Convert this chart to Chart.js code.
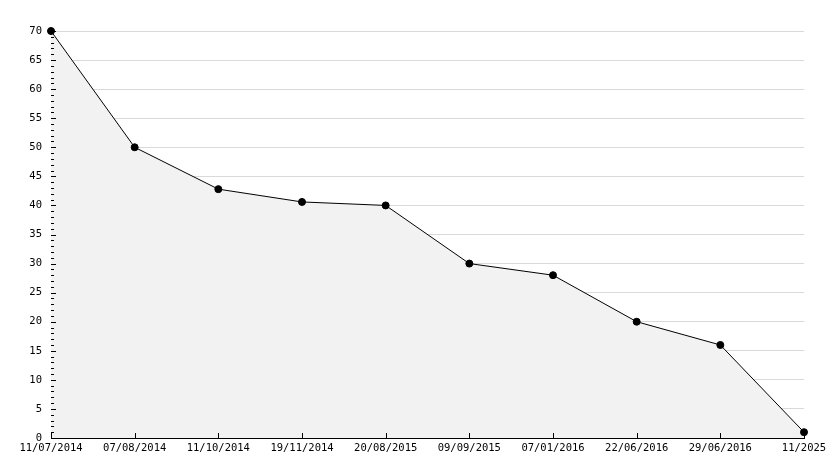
<!DOCTYPE html>
<html>
<head>
<meta charset="utf-8">
<script src="https://cdn.jsdelivr.net/npm/chart.js@4/dist/chart.umd.min.js"></script>
<style>
  html, body { margin: 0; padding: 0; background: #fff; }
  #wrap { width: 834px; height: 468px; }
</style>
</head>
<body>
<div id="wrap"><canvas id="c"></canvas></div>
<script>
const dates = ['11/07/2014', '07/08/2014', '11/10/2014', '19/11/2014', '20/08/2015',
  '09/09/2015', '07/01/2016', '22/06/2016', '29/06/2016', '11/2025'];
const values = [70, 50, 42.8, 40.6, 40, 30, 28, 20, 16, 1];
const yMin = 0;
const yMax = 70;
const yStep = 5;

const FONT = 'DejaVu Sans Mono';

// ticks drawn inside the plot, like the original
const innerTicks = {
  id: 'innerTicks',
  afterDatasetsDraw(chart) {
    const { ctx, chartArea: a, scales: { x, y } } = chart;
    ctx.save();
    ctx.strokeStyle = '#000';
    ctx.lineWidth = 1;
    ctx.beginPath();
    for (let v = yMin; v <= yMax; v++) {
      const py = Math.round(y.getPixelForValue(v)) + 0.5;
      const len = v % yStep === 0 ? 5 : 3;
      ctx.moveTo(a.left, py);
      ctx.lineTo(a.left + len, py);
    }
    dates.forEach((d, i) => {
      const px = Math.round(x.getPixelForValue(i)) + 0.5;
      ctx.moveTo(px, a.bottom);
      ctx.lineTo(px, a.bottom - 5);
    });
    ctx.stroke();
    ctx.restore();
  }
};

new Chart(document.getElementById('c'), {
  type: 'line',
  data: {
    labels: dates,
    datasets: [{
      data: values,
      borderColor: '#000',
      borderWidth: 1,
      backgroundColor: '#f2f2f2',
      fill: 'origin',
      tension: 0,
      clip: false,
      pointRadius: 3.5,
      pointBackgroundColor: '#000',
      pointBorderColor: '#000',
      pointBorderWidth: 1
    }]
  },
  options: {
    responsive: true,
    maintainAspectRatio: false,
    animation: false,
    layout: { padding: { top: 31, right: 30, left: 0, bottom: 0 } },
    plugins: { legend: { display: false }, tooltip: { enabled: false } },
    scales: {
      x: {
        offset: false,
        grid: { display: false, drawTicks: false },
        border: { color: '#000', width: 1 },
        ticks: { color: '#000', font: { family: FONT, size: 10.5 }, maxRotation: 0, autoSkip: false, padding: 4 },
        afterFit(scale) { scale.height = 30; }
      },
      y: {
        min: yMin,
        max: yMax,
        grid: { color: '#d9d9d9', drawTicks: false },
        border: { color: '#000', width: 1 },
        ticks: { stepSize: yStep, color: '#000', font: { family: FONT, size: 10.5 }, padding: 9 },
        afterFit(scale) { scale.width = 51; }
      }
    }
  },
  plugins: [innerTicks]
});
</script>
</body>
</html>
